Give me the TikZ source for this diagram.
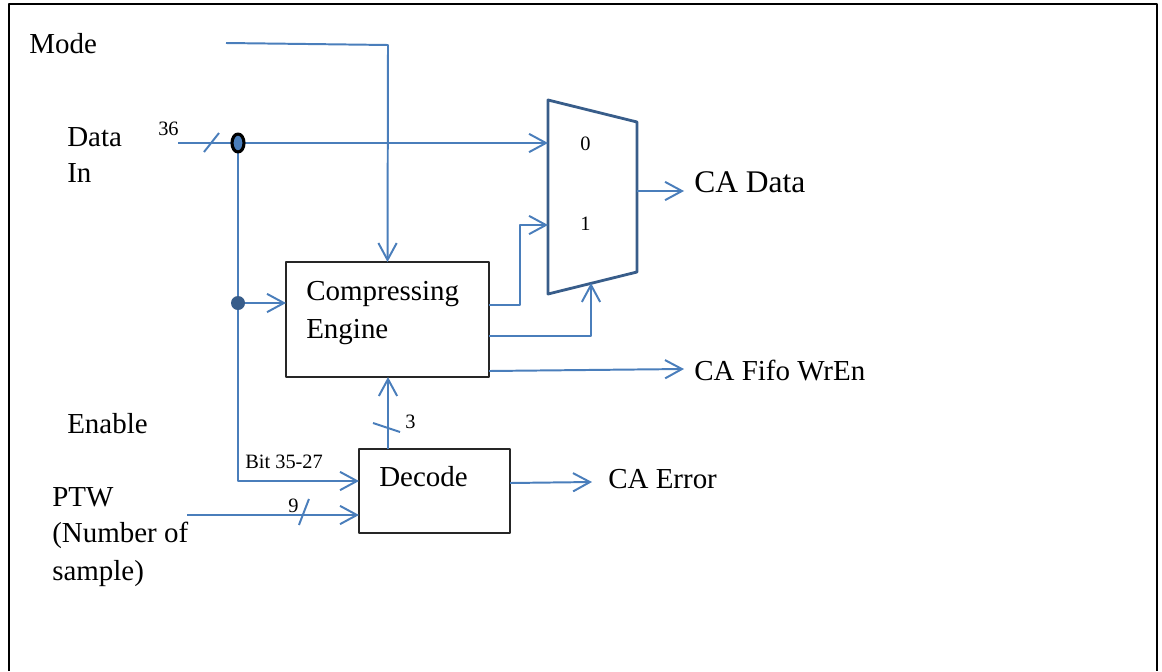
\documentclass[tikz,border=0pt]{standalone}
\usepackage{fontspec}
\setmainfont{Liberation Serif}
\usetikzlibrary{arrows.meta,calc}

\definecolor{wireblue}{RGB}{74,126,187}
\definecolor{muxblue}{RGB}{56,93,138}

\begin{document}
\begin{tikzpicture}[x=0.025cm,y=-0.025cm,line join=round,
    wire/.style={wireblue,line width=1.4pt},
    tip/.style={-{Straight Barb[length=12pt,width=13pt,line width=1.4pt]}},
    blk/.style={draw=black!85,line width=1pt,inner sep=0pt,outer sep=0pt},
    txt/.style={inner sep=0pt,anchor=base west,align=left,
      font=\fontsize{20.6}{25}\selectfont},
    small/.style={inner sep=0pt,anchor=base west,
      font=\fontsize{14.5}{17}\selectfont}]
  \useasboundingbox (0,0) rectangle (1162,671);
  \draw[line width=2pt] (9,671) -- (9,4) -- (1157,4) -- (1157,671);

  % blocks
  \node[blk,minimum width=5.075cm,minimum height=2.875cm] (ce) at (387.5,319.5) {};
  \node[blk,minimum width=3.775cm,minimum height=2.1cm] (dec) at (434.5,491) {};
  \draw[muxblue,line width=2pt] (548,100) -- (637,122) -- (637,272) -- (548,294) -- cycle;
  \coordinate (mux0) at (548,143);
  \coordinate (mux1) at (548,225);
  \coordinate (muxsel) at (591,283);
  \coordinate (muxout) at (637,191);
  \node[small] (zero) at (580,150) {0};
  \node[small] (one) at (580,230) {1};

  % labels (multi-line ones sit on their last baseline)
  \node[txt] (mode) at (29,53) {Mode};
  \node[txt] (datain) at (67,182) {Data\\In};
  \node[txt] (enable) at (67,433) {Enable};
  \node[txt] (ptw) at (52,580) {PTW\\(Number of\\[2pt]sample)};
  \node[txt] (cetext) at (306,338) {Compressing\\[2pt]Engine};
  \node[txt] (dectext) at (379,486) {Decode};
  \node[txt,font=\fontsize{22.4}{26}\selectfont] (cadata) at (694,192) {CA Data};
  \node[txt] (fifo) at (694,380) {CA Fifo WrEn};
  \node[txt] (caerr) at (608,488) {CA Error};
  \node[small] (w36) at (158,135) {36};
  \node[small] (bits) at (245,468) {Bit 35-27};
  \node[small] (w3) at (405,428) {3};
  \node[small] (w9) at (288,512) {9};

  % wires
  \coordinate (modein) at (226,43);
  \coordinate (din) at (178,143);
  \coordinate (split) at (238,143);
  \coordinate (tap) at (238,303);
  \coordinate (bitin) at (238,481);
  \coordinate (ptwin) at (187,515);
  \coordinate (dataout) at (684,191);
  \coordinate (fifoout) at (684,369);
  \coordinate (errout) at (592,482);

  \draw[wire,tip] (modein) -- (388,45) -- (ce.north);
  \draw[wire] (din) -- (split);
  \draw[wire,tip] (split) -- (mux0);
  \draw[wire,tip] (split) -- (bitin) -- (bitin -| dec.west);
  \draw[wire,tip] (tap) -- (tap -| ce.west);
  \draw[wire,tip] (ce.east |- 0,305) -- ++(31,0) |- (mux1);
  \draw[wire,tip] (ce.east |- 0,336) -| (muxsel);
  \draw[wire,tip] (ce.east |- 0,371) -- (fifoout);
  \draw[wire,tip] (muxout) -- (dataout);
  \draw[wire,tip] (dec.north -| 388,0) -- (ce.south -| 388,0);
  \draw[wire,tip] (dec.east |- 0,483) -- (errout);
  \draw[wire,tip] (ptwin) -- (ptwin -| dec.west);

  % bus width ticks
  \draw[wire] ($(din)!0.55!(split)$) +(-7,9) -- +(8,-10);
  \draw[wire] (388,427) +(-15,-4) -- +(12,5);
  \draw[wire] ($(ptwin)!0.68!(ptwin -| dec.west)$) +(-5,10) -- +(5,-16);

  % junctions
  \fill[muxblue] (tap) circle (7);
  \draw[fill=wireblue,line width=2.2pt] (split) ellipse [x radius=6,y radius=9];
\end{tikzpicture}
\end{document}
